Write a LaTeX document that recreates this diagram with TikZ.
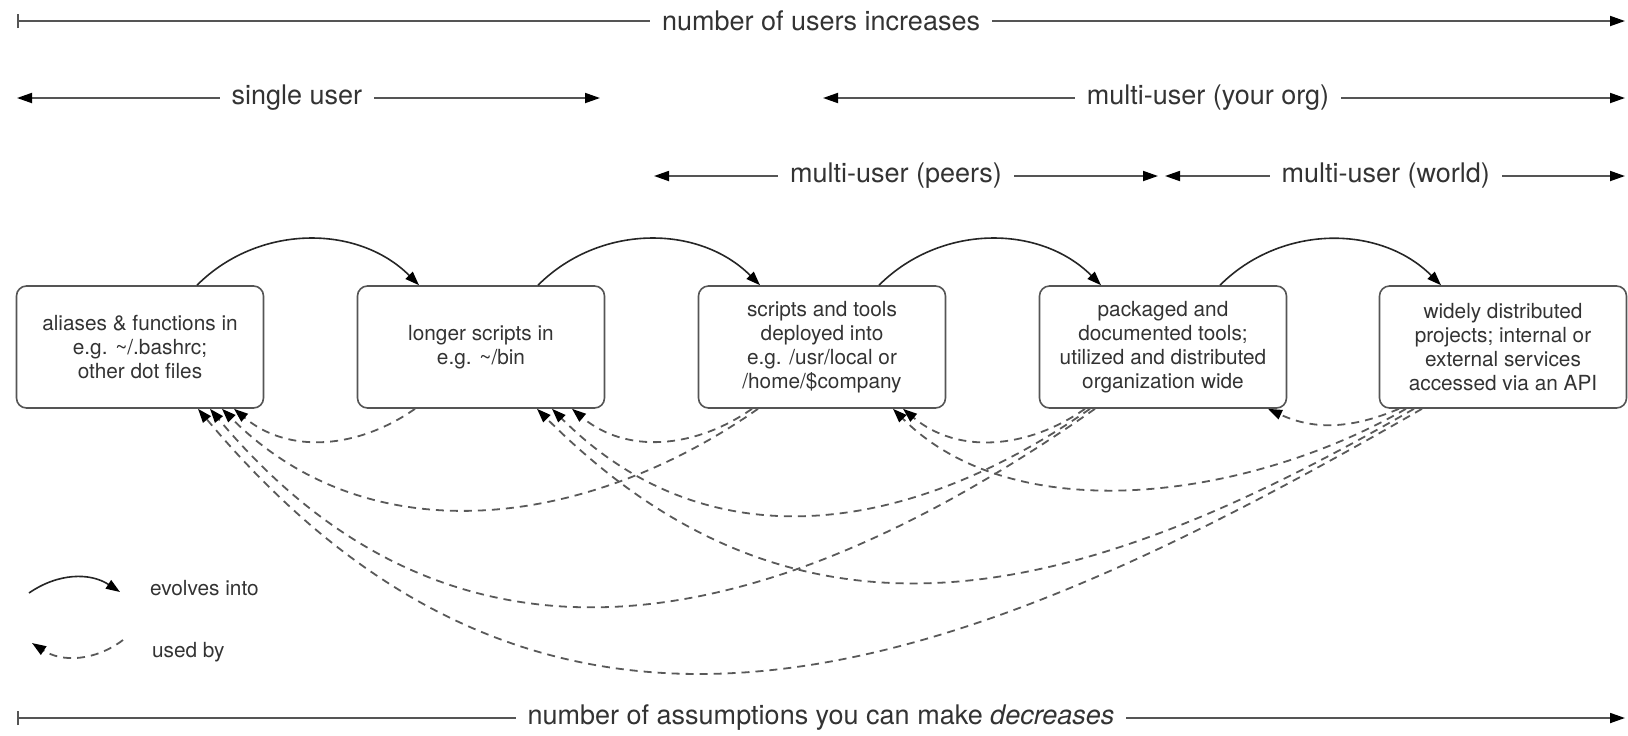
\documentclass[tikz,border=0pt]{standalone}
\usepackage{fontspec}
\setmainfont{TeX Gyre Heros}
\usepackage{tikz}
\usetikzlibrary{calc,arrows.meta}
\definecolor{ink}{HTML}{333333}
\definecolor{rule}{HTML}{555555}

\begin{document}
\begin{tikzpicture}
        [x=0.5pt,y=-0.5pt]
            \tikzstyle{box}=[draw=rule, line width=0.8pt, rounded corners=5pt,
        minimum width=123.5pt, minimum height=61pt, align=center, text=ink,
        font=\fontsize{10.4}{12}\selectfont]
            \tikzstyle{bar}=[draw=rule, line width=0.9pt]
            \tikzstyle{lbl}=[fill=white, text=ink, inner xsep=6pt, inner ysep=1pt,
        font=\fontsize{13.5}{16}\selectfont]
            \tikzstyle{evolves}=[draw=black!85, line width=0.8pt,
        -{Triangle[length=7pt,width=5pt,color=black]}]
            \tikzstyle{usedby}=[draw=black!65, line width=0.9pt,
        dash pattern=on 4pt off 3pt, -{Triangle[length=7pt,width=5pt,color=black]}]
            \tikzstyle{key}=[text=ink, font=\fontsize{10.4}{12}\selectfont, anchor=west]
        \useasboundingbox (0,0) rectangle (1628,735);
        %-----bars
         \coordinate (U0) at (17,21);   \coordinate (U1) at (1625,21);
         \coordinate (S0) at (17,98);   \coordinate (S1) at (600,98);
         \coordinate (O0) at (823,98);  \coordinate (O1) at (1625,98);
         \coordinate (P0) at (654,176); \coordinate (P1) at (1158,176);
         \coordinate (W0) at (1165,176);\coordinate (W1) at (1625,176);
         \coordinate (A0) at (17,718);  \coordinate (A1) at (1625,718);

         \draw[bar,{Bar[width=7pt]}-{Triangle[length=7.5pt,width=5pt,color=black]}] (U0) -- node[lbl] (USR) {number of users increases} (U1);
         \draw[bar,{Triangle[length=7.5pt,width=5pt,color=black]}-{Triangle[length=7.5pt,width=5pt,color=black]}] (S0) -- node[lbl,pos=0.48] (SGL) {single user} (S1);
         \draw[bar,{Triangle[length=7.5pt,width=5pt,color=black]}-{Triangle[length=7.5pt,width=5pt,color=black]}] (O0) -- node[lbl,pos=0.48] (ORG) {multi-user (your org)} (O1);
         \draw[bar,{Triangle[length=7.5pt,width=5pt,color=black]}-{Triangle[length=7.5pt,width=5pt,color=black]}] (P0) -- node[lbl,pos=0.48] (PEE) {multi-user (peers)} (P1);
         \draw[bar,{Triangle[length=7.5pt,width=5pt,color=black]}-{Triangle[length=7.5pt,width=5pt,color=black]}] (W0) -- node[lbl,pos=0.48] (WLD) {multi-user (world)} (W1);
         \draw[bar,{Bar[width=7pt]}-{Triangle[length=7.5pt,width=5pt,color=black]}] (A0) -- node[lbl] (ASM) {number of assumptions you can make \textit{decreases}} (A1);

        %-----boxes
         \node[box] (DOT) at (140,347) {aliases \& functions in\\e.g. \textasciitilde/.bashrc;\\other dot files};
         \node[box] (BIN) at (481,347) {longer scripts in\\e.g. \textasciitilde/bin};
         \node[box] (LOC) at (822,347) {scripts and tools\\deployed into\\e.g. /usr/local or\\/home/\$company};
         \node[box] (PKG) at (1163,347) {packaged and\\documented tools;\\utilized and distributed\\organization wide};
         \node[box] (API) at (1503,347) {widely distributed\\projects; internal or\\external services\\accessed via an API};

         \foreach \from/\to in {DOT/BIN,BIN/LOC,LOC/PKG,PKG/API}
         \draw[evolves] ($(\from.north)+(57,0)$) to[bend left=45] ($(\to.north)+(-62,0)$);

         \foreach \from/\fx/\to/\tx/\a/\b/\l in {BIN/-66/DOT/94/215/-40/1,
            LOC/-70/BIN/91/215/-40/1, LOC/-64/DOT/82/215/-45/1,
            PKG/-78/LOC/81/215/-40/1, PKG/-73/BIN/71/215/-45/1.05, PKG/-68/DOT/70/215/-50/1.13,
            API/-104/PKG/105/203/-25/1, API/-97/LOC/71/210/-45/0.88, API/-89/BIN/56/210/-45/1.11, API/-81/DOT/58/210/-50/1.15}
         \draw[usedby] ($(\from.south)+(\fx,0)$) to[out=\a,in=\b,looseness=\l] ($(\to.south)+(\tx,0)$);

        %-----legend
         \coordinate (E0) at (29,593);  \coordinate (E1) at (120,592);
         \coordinate (B0) at (123,640); \coordinate (B1) at (32,643);
         \draw[evolves] (E0) to[bend left=34] (E1);
         \draw[usedby] (B0) to[bend left=35] (B1);
         \node[key] (EVK) at (143,588) {evolves into};
         \node[key] (UBK) at (145,652) {used by};

        \end{tikzpicture}
\end{document}
